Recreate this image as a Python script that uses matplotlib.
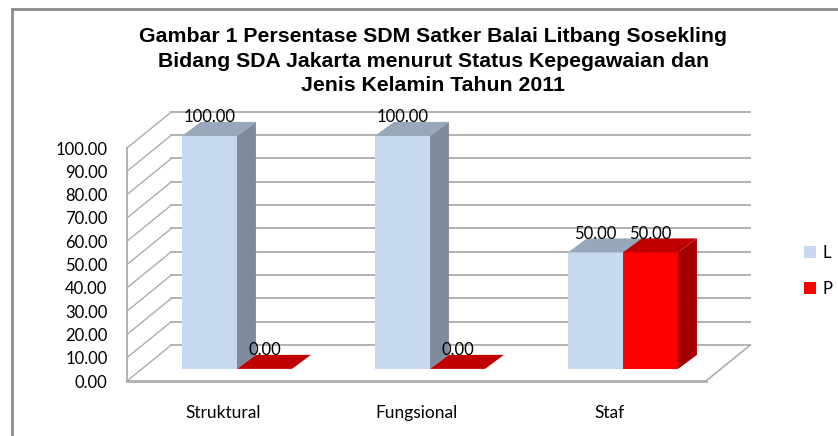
import matplotlib.pyplot as plt
from matplotlib.patches import Polygon, Patch
from matplotlib.lines import Line2D

plt.rcParams['font.family'] = ['Lato', 'DejaVu Sans']

categories = ['Struktural', 'Fungsional', 'Staf']
L_values = [100.00, 100.00, 50.00]
P_values = [0.00, 0.00, 50.00]
series_names = ['L', 'P']
yticks = [0, 10, 20, 30, 40, 50, 60, 70, 80, 90, 100]
title = ('Gambar 1 Persentase SDM Satker Balai Litbang Sosekling\n'
         'Bidang SDA Jakarta menurut Status Kepegawaian dan\n'
         'Jenis Kelamin Tahun 2011')

# colours: front, side, top
L_cols = ('#c6d9f1', '#7f8b9b', '#98a7bb')
P_cols = ('#ff0000', '#a40000', '#c00000')
grid_col = '#acacac'

# fake 3d geometry (data units)
wall_dx, wall_dy = 0.23, 15.5      # back wall offset
bar_dx, bar_dy = 0.07, 5.2         # bar row offset from the front edge
dep_dx, dep_dy = 0.098, 6.0        # bar depth
bw = 0.285

fig = plt.figure(figsize=(8.38, 4.36), dpi=100)
ax = fig.add_axes([127 / 838, 55 / 436, 579 / 838, 233 / 436])
ax.set_xlim(-0.5, 2.5)
ax.set_ylim(0, 100)
for s in ax.spines.values():
    s.set_visible(False)

x0, x1 = -0.5, len(categories) - 0.5

# back wall grid + side wall diagonals
for v in yticks:
    ax.plot([x0 + wall_dx, x1 + wall_dx], [v + wall_dy, v + wall_dy],
            color=grid_col, lw=1.3, zorder=1, clip_on=False)
    ax.plot([x0, x0 + wall_dx], [v, v + wall_dy],
            color=grid_col, lw=1.0, zorder=1, clip_on=False)
ax.plot([x0, x0], [0, 100], color=grid_col, lw=1.3, zorder=1, clip_on=False)
# floor edges
ax.plot([x0, x1], [0, 0], color=grid_col, lw=2, zorder=1, clip_on=False)
ax.plot([x1, x1 + wall_dx], [0, wall_dy], color=grid_col, lw=1.2, zorder=1, clip_on=False)


def bar3d(xl, h, cols):
    xb = xl + bar_dx
    yb = bar_dy
    xr = xb + bw
    yt = yb + h
    front = Polygon([(xb, yb), (xr, yb), (xr, yt), (xb, yt)], closed=True,
                    fc=cols[0], ec='none', zorder=3, clip_on=False)
    side = Polygon([(xr, yb), (xr + dep_dx, yb + dep_dy), (xr + dep_dx, yt + dep_dy), (xr, yt)],
                   closed=True, fc=cols[1], ec='none', zorder=3, clip_on=False)
    top = Polygon([(xb, yt), (xr, yt), (xr + dep_dx, yt + dep_dy), (xb + dep_dx, yt + dep_dy)],
                  closed=True, fc=cols[2], ec='none', zorder=3, clip_on=False)
    for p in (front, side, top):
        ax.add_patch(p)
    ax.text(xb + bw / 2, yt + dep_dy - 1.5, f'{h:.2f}', ha='center', va='bottom',
            fontsize=12, zorder=5, clip_on=False)


for i in range(len(categories)):
    bar3d(i - bw, L_values[i], L_cols)
    bar3d(i, P_values[i], P_cols)

ax.set_yticks(yticks)
ax.set_yticklabels([f'{v:.2f}' for v in yticks], fontsize=12)
ax.set_xticks(range(len(categories)))
ax.set_xticklabels(categories, fontsize=12.5)
ax.tick_params(axis='y', length=0, pad=14)
ax.tick_params(axis='x', length=0, pad=17)

fig.text(0.517, 1 - 27 / 436, title, ha='center', va='top', fontsize=15.3,
         fontweight='bold', family='Liberation Sans', linespacing=1.38)

handles = [Patch(fc=L_cols[0], ec='none'), Patch(fc=P_cols[0], ec='none')]
fig.legend(handles, series_names, loc='center left', bbox_to_anchor=(804 / 838, 1 - 271 / 436),
           frameon=False, fontsize=12, handlelength=0.72, handleheight=0.72,
           labelspacing=1.2, handletextpad=0.4, borderpad=0, borderaxespad=0)

# outer chart frame (cropped at right and bottom)
fig.add_artist(Line2D([12 / 838, 12 / 838], [0, 1 - 9 / 436], color='#8c8c8c', lw=2))
fig.add_artist(Line2D([12 / 838, 1], [1 - 9 / 436, 1 - 9 / 436], color='#8c8c8c', lw=2))

fig.savefig('out.png', dpi=100)
